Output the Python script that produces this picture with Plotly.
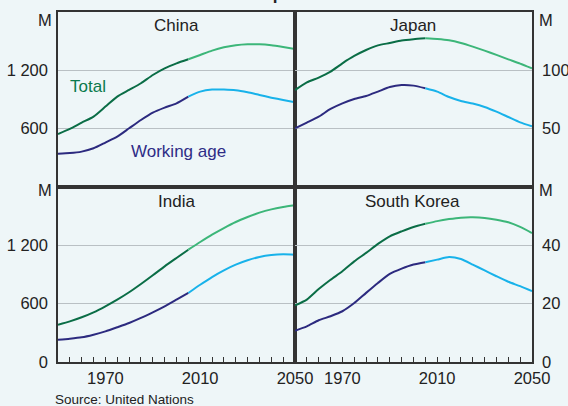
"""
Population panels: total and working-age population, four countries
"""
import plotly.graph_objects as go
from plotly.subplots import make_subplots

years = list(range(1950, 2055, 5))
split_year = 2005  # history drawn dark, projections drawn light

china_total = [545, 597, 662, 724, 827, 930, 998, 1067, 1152, 1221, 1272,
               1314, 1358, 1403, 1437, 1458, 1468, 1468, 1458, 1440, 1420]
china_working = [343, 349, 364, 398, 457, 518, 604, 689, 765, 817, 861,
                 930, 981, 1002, 1002, 995, 974, 946, 919, 895, 871]
japan_total = [83.1, 89.7, 93.8, 98.9, 106.0, 112.3, 117.4, 121.4, 123.4, 125.5, 126.6,
               127.4, 126.8, 125.7, 123.4, 120.3, 116.9, 113.2, 109.4, 105.8, 101.7]
japan_working = [50.3, 55.2, 60.3, 66.9, 71.7, 75.4, 78.0, 81.8, 85.7, 87.4, 86.9,
                 84.6, 81.7, 77.1, 73.7, 71.5, 68.6, 64.6, 60.0, 55.4, 52.0]
india_total = [384, 418, 460, 511, 573, 641, 717, 802, 892, 984, 1070,
               1155, 1234, 1310, 1378, 1440, 1491, 1536, 1570, 1594, 1612]
india_working = [230, 240, 254, 281, 315, 357, 401, 453, 511, 573, 641,
                 710, 795, 874, 943, 1001, 1046, 1080, 1100, 1108, 1104]
korea_total = [19.4, 21.4, 25.0, 28.2, 31.1, 34.5, 37.4, 40.5, 43.1, 44.8, 46.3,
               47.4, 48.3, 49.0, 49.5, 49.6, 49.4, 48.8, 47.9, 46.3, 44.2]
korea_working = [10.7, 12.2, 14.3, 15.7, 17.4, 20.2, 23.7, 27.1, 30.2, 32.0, 33.4,
                 34.2, 35.1, 36.0, 35.3, 33.4, 31.4, 29.4, 27.5, 26.0, 24.3]

panels = [
    # (name, row, col, total, working, y max, y ticks, y tick labels)
    ("China", 1, 1, china_total, china_working, 1800, [600, 1200], ["600", "1 200"]),
    ("Japan", 1, 2, japan_total, japan_working, 150, [50, 100], ["50", "100"]),
    ("India", 2, 1, india_total, india_working, 1800, [0, 600, 1200], ["0", "600", "1 200"]),
    ("South Korea", 2, 2, korea_total, korea_working, 60, [0, 20, 40], ["0", "20", "40"]),
]

DARK_GREEN = "#0a6d46"
LIGHT_GREEN = "#3cb679"
NAVY = "#2c2a7f"
CYAN = "#18b2ea"
BG = "#eef6f8"
FRAME = "#333333"
GRID = "#b9c0c4"
FONT = "Liberation Sans, Arial, sans-serif"

W, H = 568, 406
L, R, T, B = 58, 36, 12, 44


def px_x(x):
    return (x - L) / (W - L - R)


def px_y(y):
    return (H - B - y) / (H - T - B)


def add_series(fig, values, row, col, hist_color, proj_color):
    """Draw one series: history to split year, projection after it"""
    k = years.index(split_year)
    for xs, ys, color in ((years[:k + 1], values[:k + 1], hist_color),
                          (years[k:], values[k:], proj_color)):
        fig.add_trace(go.Scatter(
            x=xs, y=ys, mode="lines",
            line=dict(color=color, width=2, shape="spline", smoothing=0.6),
            showlegend=False, hoverinfo="skip"
        ), row=row, col=col)


fig = make_subplots(rows=2, cols=2, horizontal_spacing=0, vertical_spacing=0)

for name, row, col, total, working, ymax, yticks, ylabels in panels:
    add_series(fig, total, row, col, DARK_GREEN, LIGHT_GREEN)
    add_series(fig, working, row, col, NAVY, CYAN)

    if row == 2:
        xtext = [str(y) if y in (1970, 2010, 2050) else "" for y in years]
        fig.update_xaxes(tickvals=years, ticktext=xtext, ticks="inside", ticklen=5,
                         tickcolor=FRAME, tickwidth=1, row=row, col=col)
    else:
        fig.update_xaxes(showticklabels=False, ticks="", row=row, col=col)
    fig.update_xaxes(range=[1950, 2050], showline=True, linecolor=FRAME, linewidth=1.5,
                     mirror=True, showgrid=False, zeroline=False, automargin=False,
                     row=row, col=col)

    fig.update_yaxes(range=[0, ymax], tickvals=yticks, ticktext=ylabels, ticks="",
                     showgrid=True, gridcolor=GRID, gridwidth=1, zeroline=False,
                     showline=True, linecolor=FRAME, linewidth=1.5, mirror=True,
                     side="left" if col == 1 else "right", ticklabelstandoff=5,
                     automargin=False, row=row, col=col)

annotations = [
    dict(text="China", x=px_x(176), y=px_y(25)),
    dict(text="Japan", x=px_x(413), y=px_y(25)),
    dict(text="India", x=px_x(176), y=px_y(201)),
    dict(text="South Korea", x=px_x(412), y=px_y(201)),
    dict(text="Total", x=px_x(68), y=px_y(86), xanchor="left", font_color="#0b7a4d"),
    dict(text="Working age", x=px_x(129), y=px_y(151), xanchor="left", font_color="#2e2c86"),
    dict(text="M", x=px_x(45), y=px_y(20), font_size=16.5),
    dict(text="M", x=px_x(45), y=px_y(190), font_size=16.5),
    dict(text="M", x=px_x(546), y=px_y(20), font_size=16.5),
    dict(text="M", x=px_x(546), y=px_y(190), font_size=16.5),
    dict(text="Source: United Nations", x=px_x(53), y=px_y(399), xanchor="left", font_size=13.5),
    dict(text="<b>Population</b>", x=px_x(295), y=px_y(-6), font_size=17),
]
for a in annotations:
    a.setdefault("xanchor", "center")
    a.setdefault("font_size", 17)
    a.setdefault("font_color", "#222222")
    fig.add_annotation(xref="paper", yref="paper", yanchor="middle", showarrow=False,
                       font_family=FONT, **a)

fig.update_layout(
    width=W, height=H,
    margin=dict(l=L, r=R, t=T, b=B, autoexpand=False),
    paper_bgcolor=BG, plot_bgcolor=BG,
    font=dict(family=FONT, size=16.5, color="#222222"),
    showlegend=False
)

# drop the page's default body margin so the figure sits at the window corner
fig.write_html("out.html", config={"displayModeBar": False},
               post_script="document.body.style.margin = '0';")
